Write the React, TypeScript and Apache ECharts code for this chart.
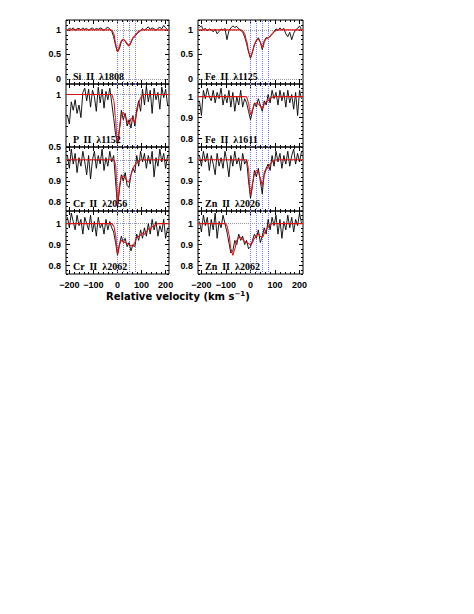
import React, { useEffect, useRef } from "react";
import * as echarts from "echarts";

// Velocity grid of the observed spectra (km/s)
const vel = [-208, -200, -192, -184, -176, -168, -160, -152, -144, -136, -128, -120, -112, -104, -96, -88, -80, -72, -64, -56, -48, -40, -32, -24, -16, -8, 0, 8, 16, 24, 32, 40, 48, 56, 64, 72, 80, 88, 96, 104, 112, 120, 128, 136, 144, 152, 160, 168, 176, 184, 192, 200, 208];

// Normalised flux (black spectra)
const siII1808 = [1.00, 1.03, 1.01, 1.04, 0.99, 1.02, 1.03, 1.00, 1.04, 1.01, 1.03, 0.99, 1.02, 1.04, 1.00, 1.03, 1.01, 1.04, 1.02, 0.99, 1.03, 1.05, 1.02, 0.97, 0.86, 0.68, 0.55, 0.62, 0.76, 0.80, 0.77, 0.70, 0.67, 0.74, 0.83, 0.86, 0.92, 0.95, 0.98, 1.03, 0.99, 1.03, 1.06, 1.01, 1.04, 1.02, 0.99, 1.03, 1.05, 1.02, 1.09, 1.04, 1.00];
const feII1125 = [1.05, 1.08, 1.00, 1.03, 0.98, 1.02, 1.00, 0.96, 1.01, 0.92, 0.97, 1.02, 0.99, 1.03, 0.80, 0.98, 1.04, 1.08, 1.05, 1.07, 1.02, 1.00, 0.95, 0.86, 0.72, 0.55, 0.42, 0.55, 0.70, 0.78, 0.84, 0.75, 0.60, 0.78, 0.84, 0.83, 0.87, 0.91, 0.96, 1.02, 0.99, 1.04, 1.00, 1.03, 0.92, 0.86, 0.95, 0.80, 0.93, 1.00, 1.03, 1.08, 1.00];
const pII1152 = [0.80, 0.72, 0.93, 0.85, 0.95, 0.82, 0.90, 0.78, 1.02, 1.06, 0.94, 1.05, 0.88, 1.04, 0.98, 0.84, 1.07, 0.92, 1.05, 0.87, 1.03, 0.95, 1.06, 0.92, 0.78, 0.62, 0.53, 0.66, 0.85, 0.76, 0.82, 0.70, 0.76, 0.68, 0.80, 0.70, 0.86, 0.94, 0.84, 1.05, 0.90, 1.08, 0.93, 1.04, 0.82, 1.06, 0.95, 1.02, 0.86, 1.07, 0.97, 1.05, 0.90];
const feII1611 = [0.98, 0.91, 1.03, 0.99, 1.04, 1.00, 0.98, 1.03, 0.97, 1.02, 0.99, 1.04, 0.96, 1.01, 0.97, 1.03, 0.95, 1.02, 0.93, 1.00, 0.96, 1.03, 0.95, 0.99, 0.97, 0.93, 0.89, 0.93, 0.97, 0.95, 0.99, 0.96, 0.93, 0.98, 0.96, 1.01, 0.97, 1.03, 0.99, 1.02, 0.96, 1.03, 0.98, 1.02, 0.95, 1.03, 0.97, 1.01, 0.94, 1.02, 0.91, 1.03, 0.99];
const crII2056 = [1.02, 0.96, 1.05, 0.98, 1.03, 0.94, 1.01, 0.97, 1.04, 0.99, 0.93, 1.02, 0.91, 1.00, 1.04, 0.96, 1.02, 0.98, 1.05, 0.95, 1.01, 0.97, 1.04, 0.99, 1.02, 0.90, 0.78, 0.86, 0.93, 0.90, 0.94, 0.88, 0.87, 0.93, 0.96, 0.94, 1.02, 0.97, 1.04, 0.99, 1.03, 0.96, 1.02, 0.98, 1.04, 0.92, 1.01, 0.97, 1.05, 0.99, 1.03, 0.96, 1.02];
const znII2026 = [1.02, 0.97, 1.04, 0.99, 1.03, 0.95, 1.02, 0.98, 0.93, 1.03, 0.97, 1.01, 0.96, 1.04, 0.99, 0.92, 1.02, 0.97, 1.04, 0.98, 1.01, 0.95, 1.03, 0.98, 1.00, 0.90, 0.82, 0.88, 0.95, 0.92, 0.96, 0.90, 0.84, 0.94, 0.96, 0.98, 0.95, 1.02, 0.97, 1.04, 0.99, 1.03, 0.96, 1.02, 0.98, 1.04, 0.97, 1.02, 1.05, 0.98, 1.03, 0.99, 1.04];
const crII2062 = [1.03, 0.98, 1.05, 1.01, 0.97, 1.04, 0.99, 1.02, 0.95, 1.03, 1.00, 0.97, 1.04, 0.96, 1.01, 0.94, 1.03, 0.98, 1.00, 0.95, 1.02, 0.97, 1.01, 0.98, 0.96, 0.91, 0.85, 0.90, 0.94, 0.91, 0.93, 0.89, 0.91, 0.87, 0.90, 0.89, 0.95, 0.92, 0.97, 0.93, 0.98, 0.94, 1.00, 0.95, 1.02, 0.97, 1.01, 0.94, 0.99, 0.96, 1.02, 0.93, 0.98];
const znII2062 = [1.01, 0.96, 1.04, 0.99, 1.03, 0.94, 1.02, 0.97, 1.05, 0.93, 1.01, 0.98, 1.04, 1.00, 0.96, 0.91, 0.86, 0.87, 0.92, 0.90, 0.95, 0.92, 0.94, 0.90, 0.92, 0.88, 0.89, 0.92, 0.95, 0.93, 0.97, 0.91, 0.94, 0.98, 0.95, 1.02, 0.97, 1.03, 0.99, 1.04, 0.95, 1.02, 0.93, 1.01, 0.97, 1.04, 0.98, 1.03, 0.96, 1.02, 0.99, 1.05, 1.00];

// Velocity grid of the model profiles (km/s)
const fitVel = [-214, -112, -104, -96, -88, -80, -72, -64, -56, -48, -40, -32, -24, -16, -8, -4, 0, 4, 8, 16, 24, 32, 40, 48, 52, 56, 64, 72, 80, 88, 96, 104, 112, 120, 128, 136, 144, 152, 160, 168, 214];

// Model profiles (red curves)
const siII1808Fit = [1, 1, 1, 1, 1, 1, 1, 1, 1, 1, 1, 1, 0.99, 0.93, 0.74, 0.62, 0.56, 0.60, 0.68, 0.78, 0.81, 0.78, 0.72, 0.68, 0.70, 0.76, 0.84, 0.88, 0.93, 0.97, 0.99, 1, 1, 1, 1, 1, 1, 1, 1, 1, 1];
const feII1125Fit = [1, 1, 1, 1, 1, 1, 1, 1, 1, 1, 1, 0.98, 0.92, 0.78, 0.58, 0.50, 0.45, 0.48, 0.56, 0.70, 0.79, 0.81, 0.76, 0.63, 0.66, 0.75, 0.82, 0.84, 0.87, 0.92, 0.96, 0.99, 1, 1, 1, 1, 1, 1, 1, 1, 1];
const pII1152Fit = [1, 1, 1, 1, 1, 1, 1, 1, 1, 1, 1, 1, 1, 0.95, 0.78, 0.62, 0.53, 0.58, 0.68, 0.80, 0.83, 0.80, 0.75, 0.72, 0.74, 0.77, 0.78, 0.73, 0.83, 0.92, 0.97, 0.99, 1, 1, 1, 1, 1, 1, 1, 1, 1];
const feII1611Fit = [1, 1, 1, 1, 1, 1, 1, 1, 1, 1, 1, 1, 1, 0.998, 0.97, 0.94, 0.915, 0.92, 0.94, 0.965, 0.97, 0.965, 0.955, 0.945, 0.95, 0.965, 0.975, 0.98, 0.99, 0.997, 1, 1, 1, 1, 1, 1, 1, 1, 1, 1, 1];
const crII2056Fit = [1, 1, 1, 1, 1, 1, 1, 1, 1, 1, 1, 1, 1, 1, 0.98, 0.90, 0.79, 0.82, 0.88, 0.92, 0.925, 0.915, 0.90, 0.895, 0.91, 0.93, 0.96, 0.975, 0.985, 0.995, 1, 1, 1, 1, 1, 1, 1, 1, 1, 1, 1];
const znII2026Fit = [1, 1, 1, 1, 1, 1, 1, 1, 1, 1, 1, 1, 1, 1, 0.96, 0.88, 0.835, 0.85, 0.89, 0.93, 0.95, 0.945, 0.915, 0.88, 0.90, 0.93, 0.955, 0.965, 0.98, 0.99, 0.997, 1, 1, 1, 1, 1, 1, 1, 1, 1, 1];
const crII2062Fit = [1, 1, 1, 1, 1, 1, 1, 1, 1, 1, 1, 1, 1, 0.99, 0.95, 0.90, 0.855, 0.87, 0.90, 0.92, 0.915, 0.91, 0.905, 0.90, 0.897, 0.895, 0.89, 0.91, 0.935, 0.94, 0.945, 0.955, 0.95, 0.96, 0.975, 0.97, 0.985, 0.99, 0.995, 1, 1];
const znII2062Fit = [1, 1, 1, 0.99, 0.95, 0.88, 0.85, 0.88, 0.92, 0.935, 0.935, 0.925, 0.915, 0.91, 0.905, 0.902, 0.90, 0.903, 0.91, 0.93, 0.945, 0.95, 0.94, 0.935, 0.94, 0.955, 0.97, 0.985, 0.995, 1, 1, 1, 1, 1, 1, 1, 1, 1, 1, 1, 1];

// Velocity components (blue dotted lines)
const componentVel = [0, 24, 48, 72];

// Tick values
const xMajor = [-200, -100, 0, 100, 200];
const xMinor = [-200, -180, -160, -140, -120, -100, -80, -60, -40, -20, 0, 20, 40, 60, 80, 100, 120, 140, 160, 180, 200];
const yMajorWide = [0, 0.5, 1];
const yMinorWide = [-0.1, 0, 0.1, 0.2, 0.3, 0.4, 0.5, 0.6, 0.7, 0.8, 0.9, 1, 1.1, 1.2];
const yMajorP = [0.5, 1];
const yMinorP = [0.5, 0.6, 0.7, 0.8, 0.9, 1, 1.1];
const yMajorNarrow = [0.8, 0.9, 1];
const yMinorNarrow = [0.76, 0.78, 0.8, 0.82, 0.84, 0.86, 0.88, 0.9, 0.92, 0.94, 0.96, 0.98, 1, 1.02, 1.04, 1.06];

const panelLabels = ["Si  II  λ1808", "Fe  II  λ1125", "P  II  λ1152", "Fe  II  λ1611", "Cr  II  λ2056", "Zn  II  λ2026", "Cr  II  λ2062", "Zn  II  λ2062"];

type Panel = {
  label: string;
  flux: number[];
  fit: number[];
  yMin: number;
  yMax: number;
  yMajor: number[];
  yMinor: number[];
  hLines: number[];
};

const panels: Panel[] = [
  { label: panelLabels[0], flux: siII1808, fit: siII1808Fit, yMin: -0.1, yMax: 1.2, yMajor: yMajorWide, yMinor: yMinorWide, hLines: [0, 1] },
  { label: panelLabels[1], flux: feII1125, fit: feII1125Fit, yMin: -0.1, yMax: 1.2, yMajor: yMajorWide, yMinor: yMinorWide, hLines: [0, 1] },
  { label: panelLabels[2], flux: pII1152, fit: pII1152Fit, yMin: 0.5, yMax: 1.1, yMajor: yMajorP, yMinor: yMinorP, hLines: [1] },
  { label: panelLabels[3], flux: feII1611, fit: feII1611Fit, yMin: 0.76, yMax: 1.06, yMajor: yMajorNarrow, yMinor: yMinorNarrow, hLines: [1] },
  { label: panelLabels[4], flux: crII2056, fit: crII2056Fit, yMin: 0.76, yMax: 1.06, yMajor: yMajorNarrow, yMinor: yMinorNarrow, hLines: [1] },
  { label: panelLabels[5], flux: znII2026, fit: znII2026Fit, yMin: 0.76, yMax: 1.06, yMajor: yMajorNarrow, yMinor: yMinorNarrow, hLines: [1] },
  { label: panelLabels[6], flux: crII2062, fit: crII2062Fit, yMin: 0.76, yMax: 1.06, yMajor: yMajorNarrow, yMinor: yMinorNarrow, hLines: [1] },
  { label: panelLabels[7], flux: znII2062, fit: znII2062Fit, yMin: 0.76, yMax: 1.06, yMajor: yMajorNarrow, yMinor: yMinorNarrow, hLines: [1] },
];

const colLeft = [66, 198];
const colWidth = [103, 105];
const rowTop = [20, 84, 147, 211];
const rowHeight = [64, 63, 64, 63];
const X_MIN = -214;
const X_MAX = 214;

const fmtNum = (v: number) => String(v).replace("-", "\u2212");

function buildOption() {
  const grids: any[] = [];
  const xAxes: any[] = [];
  const yAxes: any[] = [];
  const series: any[] = [];
  const graphics: any[] = [];

  panels.forEach((p, i) => {
    const row = Math.floor(i / 2);
    const col = i % 2;
    grids.push({
      left: colLeft[col],
      top: rowTop[row],
      width: colWidth[col],
      height: rowHeight[row],
      show: true,
      borderColor: "#000",
      borderWidth: 1,
      backgroundColor: "transparent",
    });
    const isBottom = row === 3;
    const xBase = xAxes.length;
    const yBase = yAxes.length;

    const mkX = (position: string, ticks: number[], len: number, labels: boolean) => ({
      type: "value",
      gridIndex: i,
      position,
      min: X_MIN,
      max: X_MAX,
      axisLine: { show: false, onZero: false },
      splitLine: { show: false },
      axisTick: { show: true, inside: true, length: len, customValues: ticks, lineStyle: { color: "#000", width: 1 } },
      axisLabel: labels
        ? { show: true, customValues: xMajor, formatter: fmtNum, fontSize: 9, fontFamily: "Liberation Sans", fontWeight: "bold", color: "#000", margin: 6 }
        : { show: false },
    });
    xAxes.push(mkX("bottom", xMajor, 4, isBottom), mkX("bottom", xMinor, 2, false), mkX("top", xMajor, 4, false), mkX("top", xMinor, 2, false));

    const mkY = (position: string, ticks: number[], len: number, labels: boolean) => ({
      type: "value",
      gridIndex: i,
      position,
      min: p.yMin,
      max: p.yMax,
      axisLine: { show: false, onZero: false },
      splitLine: { show: false },
      axisTick: { show: true, inside: true, length: len, customValues: ticks, lineStyle: { color: "#000", width: 1 } },
      axisLabel: labels
        ? { show: true, customValues: p.yMajor, formatter: fmtNum, fontSize: 9, fontFamily: "Liberation Sans", fontWeight: "bold", color: "#000", margin: 5 }
        : { show: false },
    });
    yAxes.push(mkY("left", p.yMajor, 4, true), mkY("left", p.yMinor, 2, false), mkY("right", p.yMajor, 4, false), mkY("right", p.yMinor, 2, false));

    const lineData: any[] = [
      ...p.hLines.map((h) => ({ yAxis: h, lineStyle: { color: "#999", type: "dotted", width: 1 } })),
      ...componentVel.map((v) => ({ xAxis: v, lineStyle: { color: "#7b7bff", type: "dotted", width: 1 } })),
    ];

    series.push({
      type: "line",
      xAxisIndex: xBase,
      yAxisIndex: yBase,
      data: vel.map((v, k) => [v, p.flux[k]]),
      showSymbol: false,
      symbol: "none",
      lineStyle: { color: "#000", width: 0.9 },
      silent: true,
      z: 3,
      markLine: {
        silent: true,
        symbol: "none",
        label: { show: false },
        data: lineData,
        z: 1,
      },
    });
    series.push({
      type: "line",
      xAxisIndex: xBase,
      yAxisIndex: yBase,
      data: fitVel.map((v, k) => [v, p.fit[k]]),
      smooth: 0.35,
      smoothMonotone: "x",
      showSymbol: false,
      symbol: "none",
      lineStyle: { color: "#e01010", width: 1.1 },
      silent: true,
      z: 4,
    });

    graphics.push({
      type: "text",
      left: colLeft[col] + 7,
      top: rowTop[row] + rowHeight[row] - 13,
      z: 10,
      style: {
        text: p.label,
        fontSize: 10,
        fontFamily: "Liberation Serif",
        fontWeight: "bold",
        fill: "#000",
      },
    });
  });

  graphics.push({
    type: "text",
    left: 106,
    top: 290,
    z: 10,
    style: {
      text: "{a|Relative velocity (km s}{s|\u22121}{a|)}",
      rich: {
        a: { fontSize: 10, fontWeight: "bold", fontFamily: "DejaVu Sans", fill: "#000" },
        s: { fontSize: 7, fontWeight: "bold", fontFamily: "DejaVu Sans", fill: "#000", verticalAlign: "top", padding: [0, 0, 5, 0] },
      },
    },
  });

  return {
    animation: false,
    backgroundColor: "#fff",
    grid: grids,
    xAxis: xAxes,
    yAxis: yAxes,
    series,
    graphic: graphics,
  };
}

export default function App() {
  const ref = useRef<HTMLDivElement>(null);
  useEffect(() => {
    if (!ref.current) return;
    const chart = echarts.init(ref.current, null, { renderer: "svg" });
    chart.setOption(buildOption() as any);
    return () => chart.dispose();
  }, []);
  return (
    <div
      ref={ref}
      style={{ position: "absolute", left: 0, top: 0, width: 474, height: 614, background: "#fff" }}
    />
  );
}
